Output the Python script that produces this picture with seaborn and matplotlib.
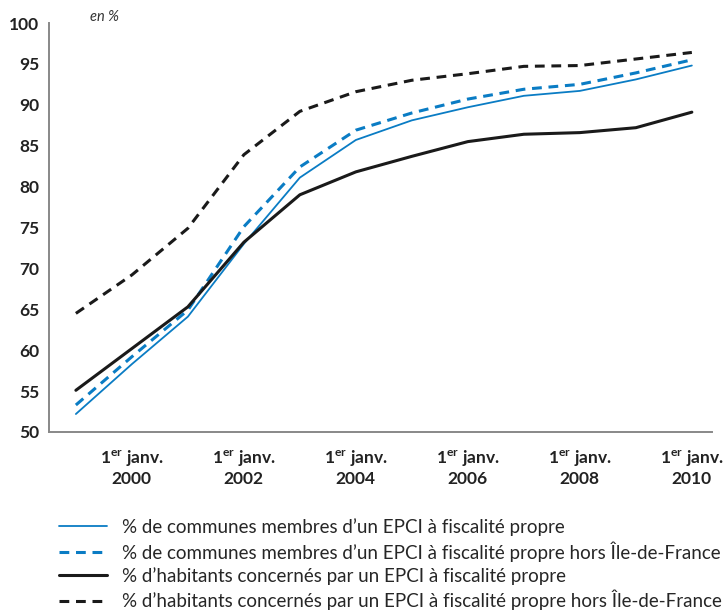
import numpy as np
import pandas as pd
import matplotlib
matplotlib.use("Agg")
import matplotlib.pyplot as plt
import seaborn as sns

# valeurs (au 1er janvier de chaque année)
annees = [1999, 2000, 2001, 2002, 2003, 2004, 2005, 2006, 2007, 2008, 2009, 2010]
communes = [52.2, 58.3, 64.1, 73.0, 81.1, 85.7, 88.1, 89.7, 91.1, 91.7, 93.1, 94.8]
communes_hors_idf = [53.3, 59.2, 64.9, 75.1, 82.4, 86.9, 89.0, 90.7, 91.9, 92.5, 93.9, 95.5]
habitants = [55.1, 60.2, 65.3, 73.2, 79.0, 81.8, 83.7, 85.5, 86.4, 86.6, 87.2, 89.1]
habitants_hors_idf = [64.5, 69.2, 74.9, 83.9, 89.2, 91.6, 93.0, 93.8, 94.7, 94.8, 95.6, 96.4]

libelles = [
    "% de communes membres d\u2019un EPCI à fiscalité propre",
    "% de communes membres d\u2019un EPCI à fiscalité propre hors Île-de-France",
    "% d\u2019habitants concernés par un EPCI à fiscalité propre",
    "% d\u2019habitants concernés par un EPCI à fiscalité propre hors Île-de-France",
]
series = [communes, communes_hors_idf, habitants, habitants_hors_idf]

bleu = "#0a7cc4"
noir = "#1a1a1a"
styles = [
    dict(color=bleu, ls="-", lw=1.3),
    dict(color=bleu, ls=(0, (3.2, 2.2)), lw=2.2),
    dict(color=noir, ls="-", lw=2.2),
    dict(color=noir, ls=(0, (3.2, 2.2)), lw=2.2),
]

sns.set_theme(style="white")
plt.rcParams["font.family"] = ["Lato", "DejaVu Sans"]
plt.rcParams["mathtext.fontset"] = "custom"
plt.rcParams["mathtext.rm"] = "Lato"
plt.rcParams["mathtext.bf"] = "Lato:bold"

fig = plt.figure(figsize=(7.24, 6.12), dpi=100)
ax = fig.add_axes([49 / 724, 1 - 432 / 612, (712 - 49) / 724, (432 - 23) / 612])

for lib, vals, st in zip(libelles, series, styles):
    df = pd.DataFrame({"annee": annees, "valeur": vals})
    sns.lineplot(data=df, x="annee", y="valeur", ax=ax, label=lib,
                 color=st["color"], linestyle=st["ls"], linewidth=st["lw"])

ax.set_xlim(1998.52, 2010.36)
ax.set_ylim(50, 100)
ax.set_xlabel("")
ax.set_ylabel("")

ax.set_yticks(np.arange(50, 101, 5))
ax.tick_params(axis="y", direction="in", length=12, width=0.9, color="#222222",
               pad=7, labelsize=12.5, labelcolor="#222222")
for t in ax.get_yticklabels():
    t.set_fontweight("bold")

ax.set_xticks(annees)
ax.set_xticklabels([("1$^{\\mathbf{er}}$ janv.\n%d" % a) if a % 2 == 0 else ""
                    for a in annees], fontweight="bold", linespacing=1.15)
ax.tick_params(axis="x", direction="out", length=7, width=0.9, color="#777777",
               pad=5, labelsize=12.5, labelcolor="#222222")

for s in ["top", "right"]:
    ax.spines[s].set_visible(False)
for s in ["left", "bottom"]:
    ax.spines[s].set_color("#888888")
    ax.spines[s].set_linewidth(1.4)

ax.text(90 / 724, 1 - 17 / 612, "en %", transform=fig.transFigure, style="italic",
        fontsize=10.5, color="#333333", va="center", ha="left")

handles, labels = ax.get_legend_handles_labels()
ax.get_legend().remove()
fig.legend(handles, labels, loc="upper left", bbox_to_anchor=(59 / 724, 1 - 518 / 612),
           frameon=False, fontsize=13.5, handlelength=2.56, handletextpad=0.8,
           labelspacing=0.28, borderaxespad=0, borderpad=0)

fig.savefig("out.png", dpi=100)
